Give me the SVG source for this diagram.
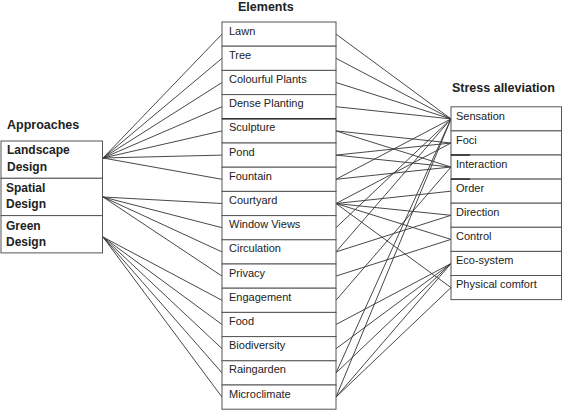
<svg xmlns="http://www.w3.org/2000/svg" width="565" height="410" viewBox="0 0 565 410">
<style>
.box{fill:#fff;stroke:#555;stroke-width:1}
.t{font-family:"Liberation Sans",Arial,sans-serif;font-size:11px;fill:#222}
.b{font-family:"Liberation Sans",Arial,sans-serif;font-size:12px;font-weight:bold;fill:#222}
.h{font-family:"Liberation Sans",Arial,sans-serif;font-size:12.5px;font-weight:bold;fill:#222}
.c line{stroke:#333;stroke-width:0.9}
.sep{stroke:#333;stroke-width:1.6}
</style>
<rect width="565" height="410" fill="#fff"/>
<text class="h" x="7" y="129">Approaches</text>
<text class="h" x="238" y="11">Elements</text>
<text class="h" x="452" y="92">Stress alleviation</text>

<g class="c" id="connectors">
<line x1="103" y1="158" x2="222" y2="34.1"/>
<line x1="103" y1="158" x2="222" y2="58.3"/>
<line x1="103" y1="158" x2="222" y2="82.5"/>
<line x1="103" y1="158" x2="222" y2="106.7"/>
<line x1="103" y1="158" x2="222" y2="130.9"/>
<line x1="103" y1="158" x2="222" y2="155.1"/>
<line x1="103" y1="158" x2="222" y2="179.3"/>
<line x1="103" y1="197" x2="222" y2="203.5"/>
<line x1="103" y1="197" x2="222" y2="227.7"/>
<line x1="103" y1="197" x2="222" y2="251.9"/>
<line x1="103" y1="197" x2="222" y2="276.1"/>
<line x1="103" y1="237" x2="222" y2="300.3"/>
<line x1="103" y1="237" x2="222" y2="324.5"/>
<line x1="103" y1="237" x2="222" y2="348.7"/>
<line x1="103" y1="237" x2="222" y2="372.9"/>
<line x1="103" y1="237" x2="222" y2="397.1"/>
<line x1="336" y1="34.1" x2="451" y2="118.9"/>
<line x1="336" y1="58.3" x2="451" y2="118.9"/>
<line x1="336" y1="82.5" x2="451" y2="118.9"/>
<line x1="336" y1="106.7" x2="451" y2="118.9"/>
<line x1="336" y1="130.9" x2="451" y2="143"/>
<line x1="336" y1="130.9" x2="451" y2="167"/>
<line x1="336" y1="155.1" x2="451" y2="143"/>
<line x1="336" y1="155.1" x2="451" y2="167"/>
<line x1="336" y1="179.3" x2="451" y2="118.9"/>
<line x1="336" y1="179.3" x2="451" y2="167"/>
<line x1="336" y1="203.5" x2="451" y2="143"/>
<line x1="336" y1="203.5" x2="451" y2="191.2"/>
<line x1="336" y1="203.5" x2="451" y2="215.3"/>
<line x1="336" y1="203.5" x2="451" y2="239.4"/>
<line x1="336" y1="203.5" x2="451" y2="287.6"/>
<line x1="336" y1="227.7" x2="451" y2="118.9"/>
<line x1="336" y1="251.9" x2="451" y2="118.9"/>
<line x1="336" y1="251.9" x2="451" y2="215.3"/>
<line x1="336" y1="276.1" x2="451" y2="239.4"/>
<line x1="336" y1="300.3" x2="451" y2="167"/>
<line x1="336" y1="324.5" x2="451" y2="263.5"/>
<line x1="336" y1="348.7" x2="451" y2="263.5"/>
<line x1="336" y1="372.9" x2="451" y2="118.9"/>
<line x1="336" y1="372.9" x2="451" y2="263.5"/>
<line x1="336" y1="397.1" x2="451" y2="118.9"/>
<line x1="336" y1="397.1" x2="451" y2="263.5"/>
<line x1="336" y1="397.1" x2="451" y2="287.6"/>
</g>

<g id="approach-landscape"><rect class="box" x="1" y="141" width="101.5" height="37.3"/><text class="b" x="7" y="154">Landscape</text><text class="b" x="7" y="171">Design</text></g>
<g id="approach-spatial"><rect class="box" x="1" y="178.3" width="101.5" height="37.3"/><text class="b" x="6" y="192">Spatial</text><text class="b" x="6" y="208">Design</text></g>
<g id="approach-green"><rect class="box" x="1" y="215.6" width="101.5" height="37.3"/><text class="b" x="6" y="230">Green</text><text class="b" x="6" y="246">Design</text></g>

<g id="el-lawn"><rect class="box" x="222" y="22" width="114" height="24.2"/><text class="t" x="229" y="34.5">Lawn</text></g>
<g id="el-tree"><rect class="box" x="222" y="46.2" width="114" height="24.2"/><text class="t" x="229" y="58.7">Tree</text></g>
<g id="el-colourful"><rect class="box" x="222" y="70.4" width="114" height="24.2"/><text class="t" x="229" y="82.9">Colourful Plants</text></g>
<g id="el-dense"><rect class="box" x="222" y="94.6" width="114" height="24.2"/><text class="t" x="229" y="107.1">Dense Planting</text></g>
<g id="el-sculpture"><rect class="box" x="222" y="118.8" width="114" height="24.2"/><text class="t" x="229" y="131.3">Sculpture</text></g>
<g id="el-pond"><rect class="box" x="222" y="143" width="114" height="24.2"/><text class="t" x="229" y="155.5">Pond</text></g>
<g id="el-fountain"><rect class="box" x="222" y="167.2" width="114" height="24.2"/><text class="t" x="229" y="179.7">Fountain</text></g>
<g id="el-courtyard"><rect class="box" x="222" y="191.4" width="114" height="24.2"/><text class="t" x="229" y="203.9">Courtyard</text></g>
<g id="el-window"><rect class="box" x="222" y="215.6" width="114" height="24.2"/><text class="t" x="229" y="228.1">Window Views</text></g>
<g id="el-circulation"><rect class="box" x="222" y="239.8" width="114" height="24.2"/><text class="t" x="229" y="252.3">Circulation</text></g>
<g id="el-privacy"><rect class="box" x="222" y="264" width="114" height="24.2"/><text class="t" x="229" y="276.5">Privacy</text></g>
<g id="el-engagement"><rect class="box" x="222" y="288.2" width="114" height="24.2"/><text class="t" x="229" y="300.7">Engagement</text></g>
<g id="el-food"><rect class="box" x="222" y="312.4" width="114" height="24.2"/><text class="t" x="229" y="324.9">Food</text></g>
<g id="el-biodiversity"><rect class="box" x="222" y="336.6" width="114" height="24.2"/><text class="t" x="229" y="349.1">Biodiversity</text></g>
<g id="el-raingarden"><rect class="box" x="222" y="360.8" width="114" height="24.2"/><text class="t" x="229" y="373.3">Raingarden</text></g>
<g id="el-microclimate"><rect class="box" x="222" y="385" width="114" height="24.2"/><text class="t" x="229" y="397.5">Microclimate</text></g>
<line class="sep" x1="222" y1="118.8" x2="336" y2="118.8"/>

<g id="st-sensation"><rect class="box" x="451" y="106.8" width="110.5" height="24.1"/><text class="t" x="456" y="119.5">Sensation</text></g>
<g id="st-foci"><rect class="box" x="451" y="130.9" width="110.5" height="24.1"/><text class="t" x="456" y="143.6">Foci</text></g>
<g id="st-interaction"><rect class="box" x="451" y="155" width="110.5" height="24.1"/><text class="t" x="456" y="167.7">Interaction</text></g>
<g id="st-order"><rect class="box" x="451" y="179.1" width="110.5" height="24.1"/><text class="t" x="456" y="191.8">Order</text></g>
<g id="st-direction"><rect class="box" x="451" y="203.2" width="110.5" height="24.1"/><text class="t" x="456" y="215.9">Direction</text></g>
<g id="st-control"><rect class="box" x="451" y="227.3" width="110.5" height="24.1"/><text class="t" x="456" y="240">Control</text></g>
<g id="st-eco"><rect class="box" x="451" y="251.4" width="110.5" height="24.1"/><text class="t" x="456" y="264.1">Eco-system</text></g>
<g id="st-physical"><rect class="box" x="451" y="275.5" width="110.5" height="24.1"/><text class="t" x="456" y="288.2">Physical comfort</text></g>
<line class="sep" x1="451" y1="155" x2="470" y2="155"/>
<line class="sep" x1="451" y1="179.1" x2="470" y2="179.1"/>
</svg>
